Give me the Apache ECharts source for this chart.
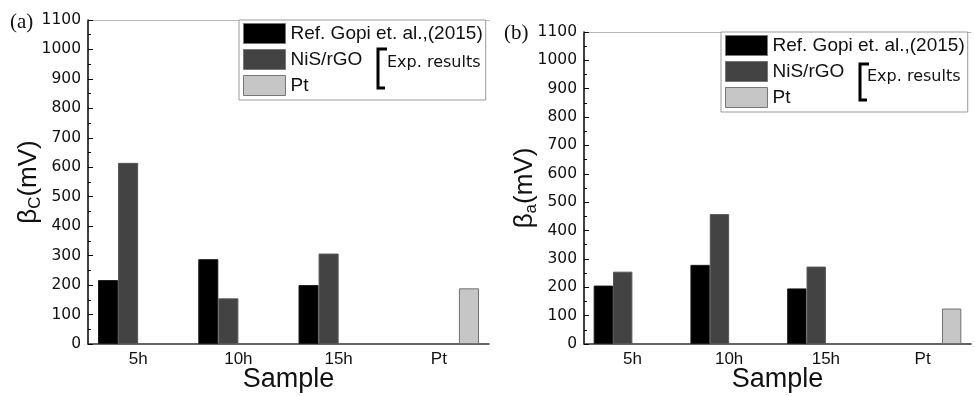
<!DOCTYPE html>
<html>
<head>
<meta charset="utf-8">
<script src="https://cdn.jsdelivr.net/npm/echarts@6/dist/echarts.min.js"></script>
<style>html,body{margin:0;padding:0;background:#fff;}#c{width:975px;height:396px;}</style>
</head>
<body>
<div id="c"></div>
<script>
const categories = ['5h', '10h', '15h', 'Pt'];
const seriesNames = ['Ref. Gopi et. al.,(2015)', 'NiS/rGO', 'Pt'];
// panel (a): beta_c (mV)
const refC = [217, 288, 200, null];
const nisC = [615, 155, 307, null];
const ptC  = [null, null, null, 189];
// panel (b): beta_a (mV)
const refA = [206, 279, 196, null];
const nisA = [255, 458, 273, null];
const ptA  = [null, null, null, 125];
const blank = [null, null, null, null];
const yMin = 0, yMax = 1100, yStep = 100;

const colors = { ref: '#000000', nis: '#434343', pt: '#c6c6c6' };
const sans = '"Liberation Sans", Arial, sans-serif';
const wide = '"DejaVu Sans", sans-serif';

function xAxes(gi) {
  return [
    {
      type: 'category', gridIndex: gi, data: categories, position: 'bottom',
      name: 'Sample', nameLocation: 'middle', nameGap: 22, nameMoveOverlap: false,
      nameTextStyle: { fontFamily: sans, fontSize: 27, color: '#111' },
      axisLine: { lineStyle: { color: '#333', width: 1.5 } },
      axisTick: { inside: true, length: 4, lineStyle: { color: '#333' } },
      axisLabel: { fontFamily: sans, fontSize: 17, color: '#111', margin: 7 },
      splitLine: { show: false }
    },
    {
      type: 'category', gridIndex: gi, data: categories, position: 'top',
      axisLine: { lineStyle: { color: '#b8b8b8', width: 1 } },
      axisTick: { show: false }, axisLabel: { show: false }, splitLine: { show: false }
    }
  ];
}
function yAxis(gi, sub) {
  return {
    type: 'value', gridIndex: gi, min: yMin, max: yMax, interval: yStep,
    name: '{b|β}{s|' + sub + '}{b|(mV)}', nameLocation: 'middle', nameGap: 44, nameRotate: 90,
    nameMoveOverlap: false,
    nameTextStyle: {
      color: '#111',
      rich: {
        b: { fontFamily: sans, fontSize: 26, color: '#111', lineHeight: 30 },
        s: { fontFamily: sans, fontSize: 17, color: '#111', verticalAlign: 'bottom', lineHeight: 22 }
      }
    },
    axisLine: { show: true, lineStyle: { color: '#000', width: 1.5 } },
    axisTick: { show: true, inside: true, length: 5, lineStyle: { color: '#000' } },
    minorTick: { show: true, splitNumber: 2, length: 3, lineStyle: { color: '#000' } },
    axisLabel: { fontFamily: wide, fontSize: 15.5, color: '#111', margin: 7, formatter: v => String(v) },
    splitLine: { show: false }
  };
}
function bars(gi, ref, nis, pt) {
  const base = { type: 'bar', xAxisIndex: gi * 2, yAxisIndex: gi, barGap: '0%', barCategoryGap: '20%' };
  return [
    Object.assign({}, base, { name: seriesNames[0], data: ref, itemStyle: { color: colors.ref, borderColor: '#1a1a1a', borderWidth: 1 } }),
    Object.assign({}, base, { name: seriesNames[1], data: nis, itemStyle: { color: colors.nis, borderColor: '#555', borderWidth: 1 } }),
    Object.assign({}, base, { name: 'slot', data: blank, itemStyle: { color: 'transparent' } }),
    Object.assign({}, base, { name: seriesNames[2], data: pt, itemStyle: { color: colors.pt, borderColor: '#707070', borderWidth: 1 } })
  ];
}
function legend(left, top) {
  return {
    data: seriesNames, orient: 'vertical', left: left, top: top,
    icon: 'rect', itemWidth: 42, itemHeight: 20, itemGap: 5,
    padding: [3, 3, 4, 4], backgroundColor: '#fff', borderColor: '#9a9a9a', borderWidth: 1,
    textStyle: { fontFamily: sans, fontSize: 19, color: '#111' },
    itemStyle: { borderColor: '#777', borderWidth: 1 },
    selectedMode: false
  };
}
function bracket(x, top, bottom, tx, ty) {
  return [
    { type: 'polyline', z: 100, shape: { points: [[x + 9, top], [x, top], [x, bottom], [x + 7, bottom]] },
      style: { stroke: '#000', lineWidth: 3, fill: null } },
    { type: 'text', z: 100, x: tx, y: ty,
      style: { text: 'Exp. results', font: '16px "DejaVu Sans"', fill: '#111', textVerticalAlign: 'middle' } }
  ];
}

const chart = echarts.init(document.getElementById('c'), null, { renderer: 'canvas' });
chart.setOption({
  animation: false,
  backgroundColor: '#fff',
  grid: [
    { left: 88, top: 20, right: 486, bottom: 52, containLabel: false, outerBoundsMode: 'none' },
    { left: 584, top: 32, right: 4, bottom: 52, containLabel: false, outerBoundsMode: 'none' }
  ],
  xAxis: xAxes(0).concat(xAxes(1)),
  yAxis: [yAxis(0, 'C'), yAxis(1, 'a')],
  legend: [legend(239, 20), legend(721, 32)],
  series: bars(0, refC, nisC, ptC).concat(bars(1, refA, nisA, ptA)),
  graphic: [
    { type: 'text', x: 10, y: 22, style: { text: '(a)', font: '21px "Liberation Serif"', fill: '#111', textVerticalAlign: 'middle' } },
    { type: 'text', x: 504, y: 33, style: { text: '(b)', font: '21px "Liberation Serif"', fill: '#111', textVerticalAlign: 'middle' } }
  ].concat(bracket(378, 49, 88, 387, 63)).concat(bracket(860, 64, 100, 867, 77))
});
</script>
</body>
</html>
